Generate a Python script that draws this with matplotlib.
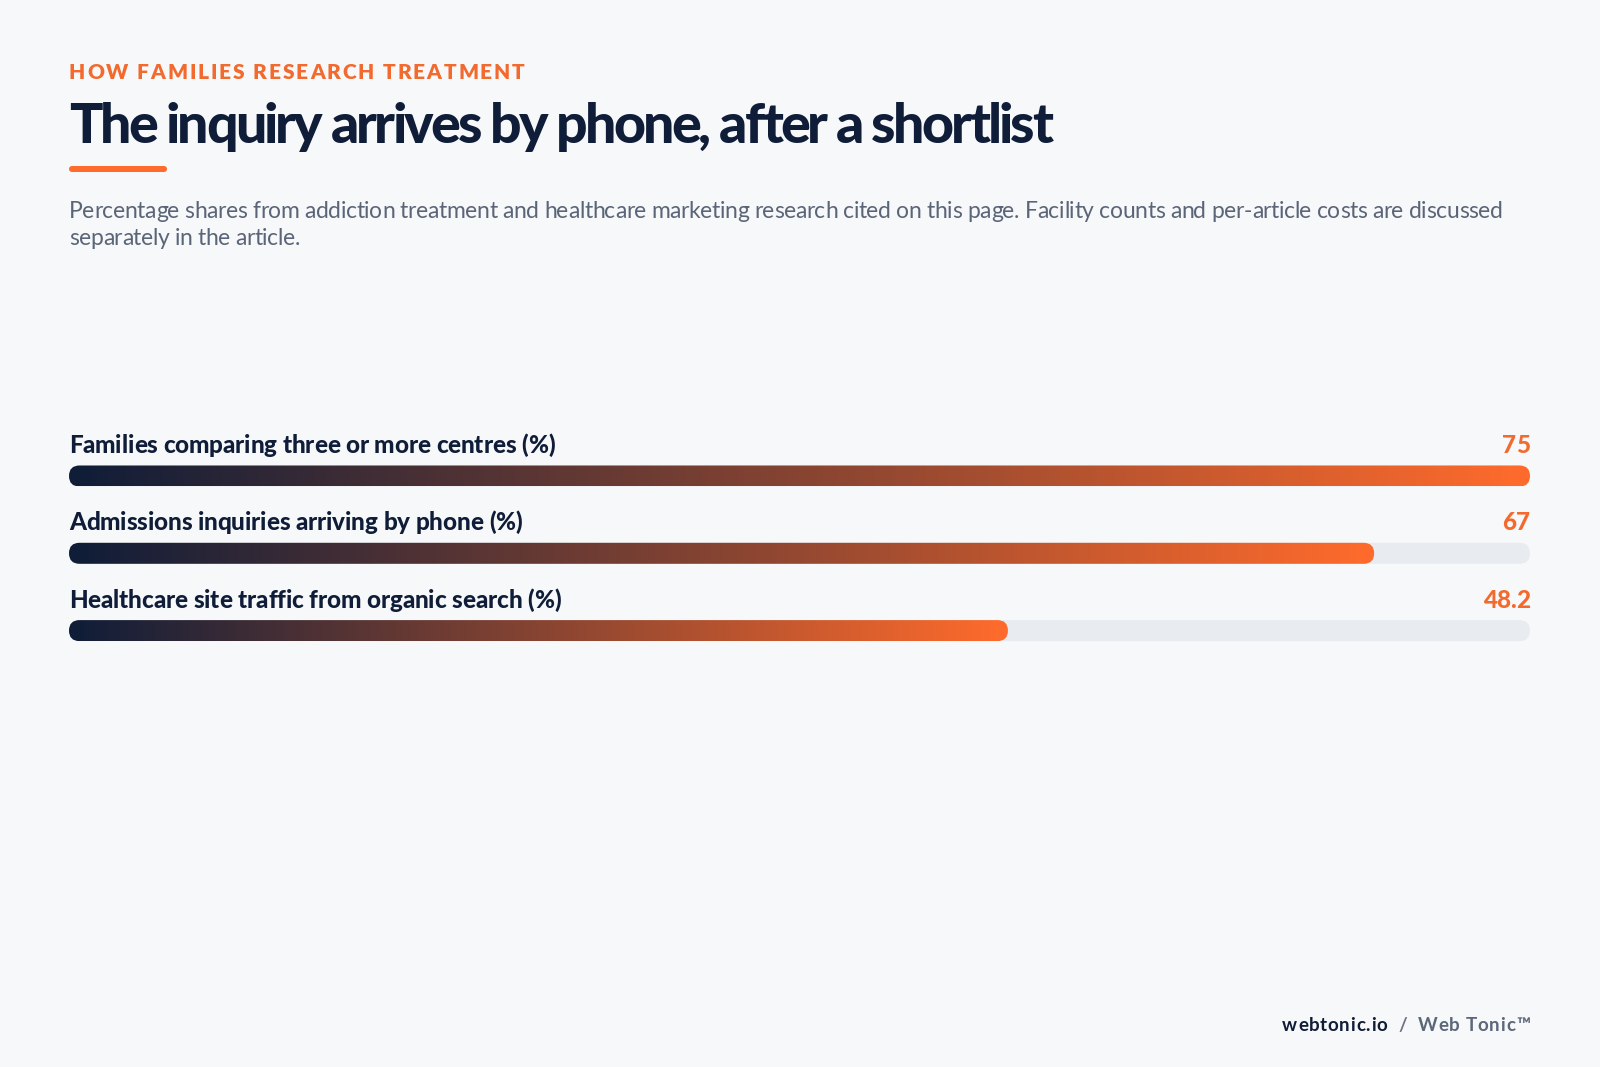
import matplotlib
matplotlib.use("Agg")
import matplotlib.pyplot as plt
import numpy as np
from matplotlib.patches import FancyBboxPatch
from matplotlib.colors import LinearSegmentedColormap
from matplotlib.font_manager import FontProperties, findfont
from matplotlib.ft2font import FT2Font

# ---------------- data ----------------
categories = [
    "Families comparing three or more centres (%)",
    "Admissions inquiries arriving by phone (%)",
    "Healthcare site traffic from organic search (%)",
]
values = [75, 67, 48.2]
value_labels = ["75", "67", "48.2"]
scale_max = 75

eyebrow = "HOW FAMILIES RESEARCH TREATMENT"
title = "The inquiry arrives by phone, after a shortlist"
subtitle_lines = [
    "Percentage shares from addiction treatment and healthcare marketing research cited on this page. Facility counts and per-article costs are discussed",
    "separately in the article.",
]
footer_parts = [("webtonic.io", "#0f1d36", "bold"), ("  /  ", "#6b7385", "bold"), ("Web Tonic\u2122", "#5d677a", "bold")]

# ---------------- style ----------------
BG = "#f7f8fa"
NAVY = "#0f1d38"
ORANGE = "#ff6b2c"
ORANGE_TXT = "#f26a2d"
GREY = "#5b6578"
TRACK = "#e8ebef"
FONT = "Lato"

W, H = 1600, 1067
fig = plt.figure(figsize=(16, 10.67), dpi=100)
fig.patch.set_facecolor(BG)

# full-figure overlay axes in pixel units (y from top)
bg = fig.add_axes([0, 0, 1, 1])
bg.set_xlim(0, W)
bg.set_ylim(H, 0)
bg.axis("off")
bg.set_zorder(0)


def advance_widths(s, size, weight):
    fp = FontProperties(family=FONT, weight=weight, size=size)
    font = FT2Font(findfont(fp))
    font.set_size(size, 100)
    out = []
    for ch in s:
        g = font.load_char(ord(ch))
        out.append(g.linearHoriAdvance / 65536)
    return out


def tracked(axis, x, y, parts, size, tracking, ha="left", xscale=1.0):
    """parts: list of (text, color, weight); draws char by char with tracking (px).
    xscale converts pixels into the x data units of `axis`."""
    items = []
    for s, c, w in parts:
        adv = advance_widths(s, size, w)
        for ch, a in zip(s, adv):
            items.append((ch, c, w, a))
    total = sum(a for *_, a in items) + tracking * (len(items) - 1)
    cx = x if ha == "left" else x - total / xscale
    for ch, c, w, a in items:
        if ch != " ":
            axis.text(cx, y, ch, color=c, fontsize=size, fontweight=w,
                      family=FONT, ha="left", va="baseline")
        cx += (a + tracking) / xscale


# eyebrow
tracked(bg, 69, 79, [(eyebrow, ORANGE_TXT, "heavy")], 15, 1.9)

# title
tracked(bg, 69, 143, [(title, NAVY, "black")], 40, -2.8)

# accent underline
bg.add_patch(FancyBboxPatch((69, 166), 98, 6, boxstyle="round,pad=0,rounding_size=3",
                            fc=ORANGE, ec="none"))

# subtitle
tracked(bg, 69, 218, [(subtitle_lines[0], GREY, "normal")], 16.5, -0.34)
tracked(bg, 69, 245, [(subtitle_lines[1], GREY, "normal")], 16.5, -0.34)

# footer
tracked(bg, 1530, 1031, footer_parts, 13.5, 0.7, ha="right")

# ---------------- bars ----------------
ax_top_px, ax_bot_px = 410, 660
ax = fig.add_axes([69 / W, (H - ax_bot_px) / H, (1530 - 69) / W, (ax_bot_px - ax_top_px) / H])
ax.set_zorder(1)
ax.patch.set_alpha(0)
ax.axis("off")

ax_h = ax_bot_px - ax_top_px
ppu = (1530 - 69) / scale_max        # pixels per data unit (x)
bar_h = 21
step = 77.3
first_bar_center = 476
first_label_base = 453

cmap = LinearSegmentedColormap.from_list("g", [NAVY, ORANGE])
grad = np.linspace(0, 1, 512).reshape(1, -1)

for i, (cat, v, lab) in enumerate(zip(categories, values, value_labels)):
    yc = ax_h - (first_bar_center - ax_top_px + i * step)
    yl = ax_h - (first_label_base - ax_top_px + i * step)
    track = FancyBboxPatch((0, yc - bar_h / 2), scale_max, bar_h,
                           boxstyle=f"round,pad=0,rounding_size={bar_h / 2 / ppu}",
                           mutation_aspect=ppu, fc=TRACK, ec="none", zorder=1)
    ax.add_patch(track)
    clip = FancyBboxPatch((0, yc - bar_h / 2), v, bar_h,
                          boxstyle=f"round,pad=0,rounding_size={bar_h / 2 / ppu}",
                          mutation_aspect=ppu, fc="none", ec="none", zorder=2)
    ax.add_patch(clip)
    im = ax.imshow(grad, extent=[0, v, yc - bar_h / 2, yc + bar_h / 2], aspect="auto",
                   cmap=cmap, interpolation="bilinear", zorder=2)
    im.set_clip_path(clip)
    tracked(ax, 0, yl, [(cat, NAVY, "black")], 17.5, -0.1, xscale=ppu)
    tracked(ax, scale_max, yl, [(lab, ORANGE_TXT, "black")], 17.5, -0.2, ha="right", xscale=ppu)

ax.set_xlim(0, scale_max)
ax.set_ylim(0, ax_h)

fig.savefig("out.png", dpi=100, facecolor=BG)
